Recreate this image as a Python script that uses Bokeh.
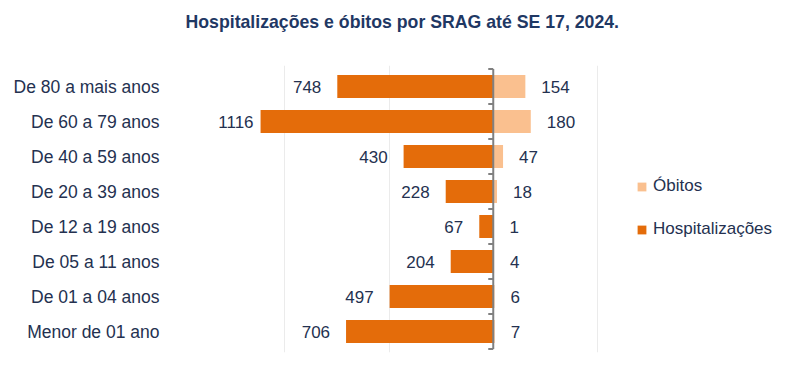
from bokeh.plotting import figure
from bokeh.models import ColumnDataSource, FixedTicker, Legend, LegendItem, Title
from bokeh.core.properties import value
from bokeh.embed import file_html
from bokeh.resources import INLINE

categorias = ["De 80 a mais anos", "De 60 a 79 anos", "De 40 a 59 anos", "De 20 a 39 anos",
              "De 12 a 19 anos", "De 05 a 11 anos", "De 01 a 04 anos", "Menor de 01 ano"]
hospitalizacoes = [748, 1116, 430, 228, 67, 204, 497, 706]
obitos = [154, 180, 47, 18, 1, 4, 6, 7]
grid_ticks = [-1500, -1000, -500, 500]
titulo = "Hospitalizações e óbitos por SRAG até SE 17, 2024."

FONT = "Liberation Sans"
NAVY = "#243150"
HOSP_COLOR = "#E46C0A"
OBIT_COLOR = "#FAC08F"

n = len(categorias)
ypos = [n - 1 - i for i in range(n)]

src = ColumnDataSource(dict(
    y=ypos,
    cat=categorias,
    hosp_neg=[-v for v in hospitalizacoes],
    hosp_txt=[str(v) for v in hospitalizacoes],
    hosp_off=[-7 if v > 1000 else -16 for v in hospitalizacoes],
    obit=obitos,
    obit_txt=[str(v) for v in obitos],
))

W, H = 800, 357
left, right, top, bottom = 180, 0, 65, 5
frame_w = W - left - right
px_per_unit = 417 / 2000.0
x_start = -1500
x_end = x_start + frame_w / px_per_unit

p = figure(title=None, width=W, height=H, output_backend="svg", toolbar_location=None,
           x_range=(x_start, x_end), y_range=(-0.6, n - 0.4),
           min_border_left=left, min_border_right=right,
           min_border_top=top, min_border_bottom=bottom)
p.outline_line_color = None
p.background_fill_color = "white"
p.border_fill_color = "white"

# spacer panel between frame and title, then the title itself (outer panel)
p.add_layout(Title(text=" ", text_font_size="1px", standoff=29), "above")
p.add_layout(Title(text=titulo, text_font=FONT, text_font_size="17.7px",
                   text_font_style="bold", text_color="#1F3864",
                   align="left", offset=5, standoff=4), "above")

p.xaxis.visible = False
p.xgrid.ticker = FixedTicker(ticks=grid_ticks)
p.xgrid.grid_line_color = "#EBEBEB"
p.ygrid.grid_line_color = None

p.yaxis.ticker = FixedTicker(ticks=ypos)
p.yaxis.major_label_overrides = {y: c for y, c in zip(ypos, categorias)}
p.yaxis.axis_line_color = None
p.yaxis.major_tick_line_color = None
p.yaxis.minor_tick_line_color = None
p.yaxis.major_label_standoff = 15
p.yaxis.major_label_text_font = FONT
p.yaxis.major_label_text_font_size = "17.5px"
p.yaxis.major_label_text_color = NAVY

bar_h = 0.66
r_obit = p.hbar(y="y", left=0, right="obit", height=bar_h, source=src,
                fill_color=OBIT_COLOR, line_color=None)
r_hosp = p.hbar(y="y", left="hosp_neg", right=0, height=bar_h, source=src,
                fill_color=HOSP_COLOR, line_color=None)

# central axis with tick marks at category boundaries
bounds = [i - 0.5 for i in range(n + 1)]
tick_len = 5 / px_per_unit
p.segment(x0=[0], y0=[bounds[0]], x1=[0], y1=[bounds[-1]], line_color="#808080", line_width=2)
p.segment(x0=[0] * len(bounds), y0=bounds, x1=[-tick_len] * len(bounds), y1=bounds,
          line_color="#808080", line_width=2)

p.text(x="hosp_neg", y="y", text="hosp_txt", x_offset="hosp_off", source=src,
       text_align="right", text_baseline="middle", text_font=value(FONT),
       text_font_size="17px", text_color=NAVY)
p.text(x="obit", y="y", text="obit_txt", x_offset=16, source=src,
       text_align="left", text_baseline="middle", text_font=value(FONT),
       text_font_size="17px", text_color=NAVY)

legend = Legend(items=[LegendItem(label="Óbitos", renderers=[r_obit]),
                       LegendItem(label="Hospitalizações", renderers=[r_hosp])],
                location=(456, 113), orientation="vertical",
                padding=0, margin=0, spacing=23,
                glyph_width=11, glyph_height=11, label_height=20, label_standoff=6,
                label_text_font=FONT, label_text_font_size="17px", label_text_color=NAVY,
                border_line_color=None, background_fill_alpha=0)
p.add_layout(legend, "center")

open("out.html", "w").write(file_html(p, INLINE))
